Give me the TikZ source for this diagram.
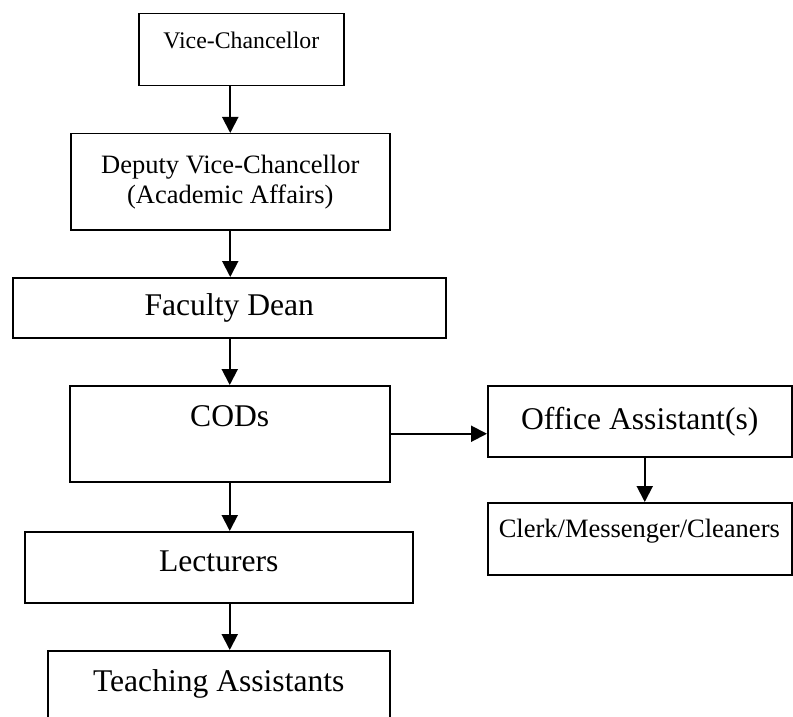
\documentclass[tikz,border=0pt]{standalone}
\usepackage{fontspec}
\setmainfont{Liberation Serif}
\usetikzlibrary{arrows.meta}

\tikzset{
  orgbox/.style={draw, line width=0.75pt, rectangle, anchor=north west, inner xsep=2pt},
  orgarrow/.style={line width=1pt, -{Triangle[width=8pt,length=8pt]}},
}

\begin{document}
\begin{tikzpicture}[x=0.5pt,y=-0.5pt]
\def\smallsize{\fontsize{11.9}{14}\selectfont}
\def\midsize{\fontsize{13.25}{15}\selectfont}
\def\bigsize{\fontsize{15.8}{18}\selectfont}
\useasboundingbox (0,0) rectangle (793,717);
\clip (0,0) rectangle (793,717);
% left column
\node[orgbox, minimum width=102.5pt, inner ysep=0pt, text height=17.5pt, text depth=18.5pt, font=\smallsize] (vc) at (138,13) {Vice-Chancellor};
\node[orgbox, minimum width=159.5pt, minimum height=48pt, align=center, font=\midsize] (dvc) at (70,133) {Deputy Vice-Chancellor\\(Academic Affairs)};
\node[orgbox, minimum width=216.5pt, minimum height=30pt, font=\bigsize] (dean) at (12,277) {Faculty Dean};
\node[orgbox, minimum width=160pt, inner ysep=0pt, text height=20.25pt, text depth=27.75pt, font=\bigsize] (cods) at (69,385) {CODs};
\node[orgbox, minimum width=194pt, inner ysep=0pt, text height=19.75pt, text depth=15.75pt, font=\bigsize] (lect) at (24,531) {Lecturers};
\node[orgbox, minimum width=171pt, inner ysep=0pt, text height=20.25pt, text depth=20pt, font=\bigsize] (ta) at (47,650) {Teaching Assistants};
% right column
\node[orgbox, minimum width=152pt, minimum height=35.5pt, font=\bigsize] (oa) at (487,385) {Office Assistant(s)};
\node[orgbox, inner xsep=5.5pt, text width=141pt, align=left, inner ysep=0pt, text height=17.5pt, text depth=18.5pt, font=\midsize] (clerk) at (487,502) {Clerk/Messenger/Cleaners};
% arrows
\draw[orgarrow] (vc.south -| dvc.north) -- (dvc.north);
\draw[orgarrow] (dvc.south) -- (dvc.south |- dean.north);
\draw[orgarrow] (dean.south -| cods.north) -- (cods.north);
\draw[orgarrow] (cods.south) -- (cods.south |- lect.north);
\draw[orgarrow] (lect.south -| cods.south) -- (ta.north -| cods.south);
\draw[orgarrow] (cods.east) -- (cods.east -| oa.west);
\draw[orgarrow] ([xshift=2.5pt]oa.south) -- ([xshift=2.5pt]oa.south |- clerk.north);
\end{tikzpicture}
\end{document}
